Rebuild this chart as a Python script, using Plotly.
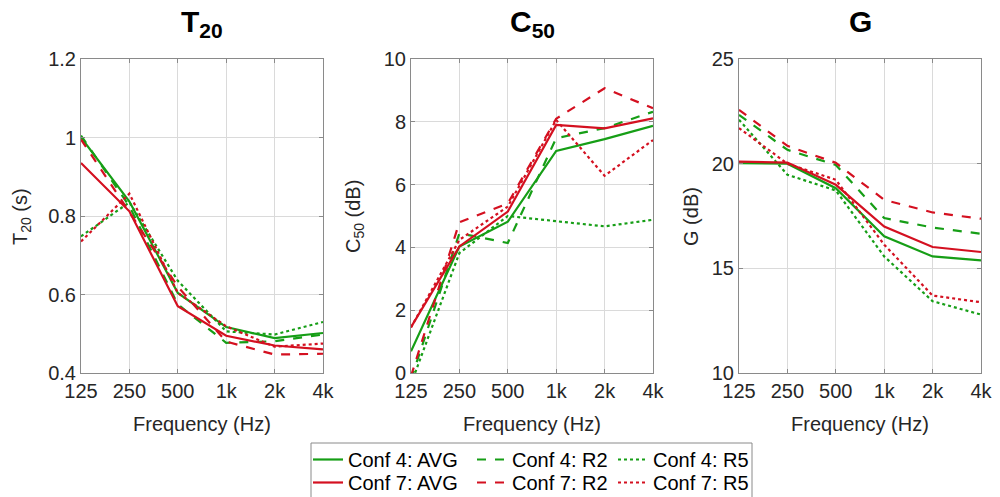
import plotly.graph_objects as go

freqs = [125, 250, 500, 1000, 2000, 4000]
freq_labels = ["125", "250", "500", "1k", "2k", "4k"]

# T20 (s)
t20_c4_avg = [1.00, 0.837, 0.604, 0.517, 0.489, 0.502]
t20_c4_r2 = [1.005, 0.825, 0.575, 0.477, 0.481, 0.498]
t20_c4_r5 = [0.748, 0.835, 0.635, 0.506, 0.498, 0.530]
t20_c7_avg = [0.935, 0.812, 0.570, 0.495, 0.470, 0.460]
t20_c7_r2 = [0.995, 0.810, 0.620, 0.480, 0.447, 0.449]
t20_c7_r5 = [0.735, 0.857, 0.604, 0.519, 0.467, 0.475]

# C50 (dB)
c50_c4_avg = [0.69, 4.03, 4.82, 7.07, 7.45, 7.87]
c50_c4_r2 = [-0.2, 4.45, 4.14, 7.48, 7.80, 8.32]
c50_c4_r5 = [-0.35, 3.82, 5.00, 4.83, 4.67, 4.88]
c50_c7_avg = [1.46, 4.03, 5.14, 7.90, 7.79, 8.11]
c50_c7_r2 = [-0.1, 4.80, 5.40, 8.10, 9.07, 8.43]
c50_c7_r5 = [1.45, 4.24, 5.30, 8.06, 6.28, 7.42]

# G (dB)
g_c4_avg = [20.02, 20.00, 18.83, 16.53, 15.57, 15.38]
g_c4_r2 = [22.33, 20.66, 19.94, 17.40, 16.95, 16.65]
g_c4_r5 = [22.10, 19.47, 18.72, 15.57, 13.43, 12.79]
g_c7_avg = [20.10, 20.05, 18.99, 17.00, 16.02, 15.78]
g_c7_r2 = [22.57, 20.85, 20.04, 18.27, 17.67, 17.37]
g_c7_r5 = [21.70, 20.00, 19.23, 16.13, 13.70, 13.38]

series_names = ["Conf 4: AVG", "Conf 4: R2", "Conf 4: R5",
                "Conf 7: AVG", "Conf 7: R2", "Conf 7: R5"]

GREEN = "rgb(22,158,22)"
RED = "rgb(212,16,32)"
FONT = "Liberation Sans, Arial, sans-serif"
W, H = 1000, 497

panels = [
    (t20_c4_avg, t20_c4_r2, t20_c4_r5, t20_c7_avg, t20_c7_r2, t20_c7_r5),
    (c50_c4_avg, c50_c4_r2, c50_c4_r5, c50_c7_avg, c50_c7_r2, c50_c7_r5),
    (g_c4_avg, g_c4_r2, g_c4_r5, g_c7_avg, g_c7_r2, g_c7_r5),
]
styles = [(GREEN, "solid"), (GREEN, "dash"), (GREEN, "dot"),
          (RED, "solid"), (RED, "dash"), (RED, "dot")]
legend_ids = ["legend", "legend2", "legend3", "legend4", "legend5", "legend6"]

fig = go.Figure()
for p, data in enumerate(panels):
    xa = "x" if p == 0 else f"x{p+1}"
    ya = "y" if p == 0 else f"y{p+1}"
    for i, vals in enumerate(data):
        col, dash = styles[i]
        fig.add_trace(go.Scatter(
            x=freqs, y=vals, mode="lines", name=series_names[i],
            line=dict(color=col, dash=dash, width=2.2),
            xaxis=xa, yaxis=ya, showlegend=(p == 0),
            legend=legend_ids[i],
        ))

px_x = [(81, 323), (411, 653), (739, 981)]
y_dom = [1 - 373 / H, 1 - 59 / H]
yranges = [(0.4, 1.2), (0, 10), (10, 25)]
ytickv = [[0.4, 0.6, 0.8, 1.0, 1.2], [0, 2, 4, 6, 8, 10], [10, 15, 20, 25]]
ytickt = [["0.4", "0.6", "0.8", "1", "1.2"], ["0", "2", "4", "6", "8", "10"],
          ["10", "15", "20", "25"]]

layout = dict(
    width=W, height=H, margin=dict(l=0, r=0, t=0, b=0, autoexpand=False),
    paper_bgcolor="white", plot_bgcolor="white",
    font=dict(family=FONT, size=20, color="#262626"),
)
for p in range(3):
    suf = "" if p == 0 else str(p + 1)
    layout["xaxis" + suf] = dict(
        type="log", domain=[px_x[p][0] / W, px_x[p][1] / W],
        range=[2.0969100130080562, 3.6020599913279625],
        tickvals=freqs, ticktext=freq_labels,
        showgrid=True, gridcolor="#dadada", gridwidth=1,
        showline=True, linecolor="#8a8a8a", linewidth=1, mirror="ticks",
        ticks="inside", ticklen=4, tickcolor="#8a8a8a",
        tickfont=dict(size=20, family=FONT, color="#262626"),
        anchor="y" + suf, zeroline=False, fixedrange=True, automargin=False,
    )
    layout["yaxis" + suf] = dict(
        domain=y_dom, range=list(yranges[p]),
        tickvals=ytickv[p], ticktext=ytickt[p],
        showgrid=True, gridcolor="#dadada", gridwidth=1,
        showline=True, linecolor="#8a8a8a", linewidth=1, mirror="ticks",
        ticks="inside", ticklen=4, tickcolor="#8a8a8a",
        tickfont=dict(size=20, family=FONT, color="#262626"),
        anchor="x" + suf, zeroline=False, fixedrange=True, automargin=False,
    )

annotations = []
titles = ["<b>T<sub>20</sub></b>", "<b>C<sub>50</sub></b>", "<b>G</b>"]
ylabels = ["T<sub>20</sub> (s)", "C<sub>50</sub> (dB)", "G (dB)"]
ylab_x = [21, 354, 691]
for p in range(3):
    cx = (px_x[p][0] + px_x[p][1]) / 2
    annotations.append(dict(
        text=titles[p], x=cx / W, y=1 - 3 / H, xref="paper", yref="paper",
        xanchor="center", yanchor="top", showarrow=False,
        font=dict(size=30, family=FONT, color="black"),
    ))
    annotations.append(dict(
        text="Frequency (Hz)", x=cx / W, y=1 - 424 / H, xref="paper", yref="paper",
        xanchor="center", yanchor="middle", showarrow=False,
        font=dict(size=20, family=FONT, color="#262626"),
    ))
    annotations.append(dict(
        text=ylabels[p], x=ylab_x[p] / W, y=1 - 217 / H, xref="paper", yref="paper",
        xanchor="center", yanchor="middle", showarrow=False, textangle=-90,
        font=dict(size=20, family=FONT, color="#262626"),
    ))
layout["annotations"] = annotations

leg_common = dict(orientation="v", xanchor="left", yanchor="top",
                  bgcolor="rgba(0,0,0,0)", borderwidth=0,
                  font=dict(size=20, family=FONT, color="black"),
                  itemclick=False, itemdoubleclick=False, tracegroupgap=0)
leg_x = [308, 472, 613]
leg_y = [440, 463]
for i, lid in enumerate(legend_ids):
    layout[lid] = dict(leg_common, x=leg_x[i % 3] / W, y=1 - leg_y[i // 3] / H)
layout["shapes"] = [dict(type="rect", xref="paper", yref="paper",
                         x0=311 / W, x1=752 / W, y0=-0.02, y1=1 - 443 / H,
                         line=dict(color="#8a8a8a", width=1), fillcolor="rgba(0,0,0,0)")]

fig.update_layout(**layout)
fig.write_html("out.html")
